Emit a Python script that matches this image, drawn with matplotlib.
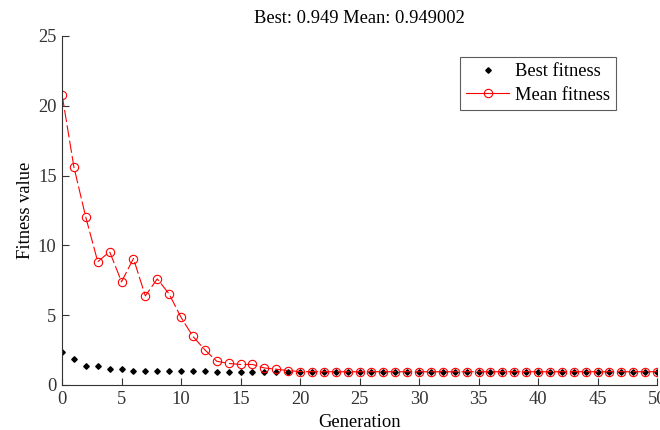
import numpy as np
import matplotlib
matplotlib.use('Agg')
import matplotlib.pyplot as plt

plt.rcParams['font.family'] = ['Liberation Serif', 'DejaVu Serif']

# fitness per generation from the GA run
generation = np.arange(0, 51)
best_fitness = [2.33, 1.85, 1.37, 1.37, 1.13, 1.13, 1.03, 1.03, 1.03, 1.03,
                1.03, 1.03, 1.03] + [0.949] * 38
mean_fitness = [20.8, 15.6, 12.0, 8.83, 9.55, 7.39, 9.06, 6.38, 7.6, 6.52,
                4.84, 3.48, 2.52, 1.70, 1.54, 1.47, 1.47, 1.22, 1.13, 1.03,
                0.96] + [0.949002] * 30

fs = 13.3

fig = plt.figure(figsize=(6.6, 4.3), dpi=100)
ax = fig.add_axes([0.094, 0.1047, 0.9015, 0.8116])

ax.plot(generation, best_fitness, 'D', color='k', markersize=2.8,
        linestyle='none', label='Best fitness')
ax.plot(generation, mean_fitness, color='r', marker='o', markersize=6,
        markerfacecolor='none', markeredgewidth=0.8, linewidth=0.8,
        dashes=(11, 3), label='Mean fitness')

ax.set_xlim(0, 50)
ax.set_ylim(0, 25)
ax.set_xticks(np.arange(0, 51, 5))
ax.set_yticks(np.arange(0, 26, 5))
ax.spines['top'].set_visible(False)
ax.spines['right'].set_visible(False)
for s in ('left', 'bottom'):
    ax.spines[s].set_color('#333333')
ax.tick_params(direction='in', length=5, width=0.8, colors='#333333',
               labelsize=fs)
ax.tick_params(axis='x', pad=4)
ax.tick_params(axis='y', pad=4)

ax.set_title('Best: 0.949 Mean: 0.949002', fontsize=fs, pad=9)
ax.set_xlabel('Generation', fontsize=fs, labelpad=5)
ax.set_ylabel('Fitness value', fontsize=fs, labelpad=3)

leg = ax.legend(loc='upper right', bbox_to_anchor=(0.931, 0.94),
                borderaxespad=0, fontsize=fs, frameon=True, fancybox=False,
                handlelength=2.3, borderpad=0.35, labelspacing=0.35,
                handletextpad=0.3)
leg.get_frame().set_edgecolor('#333333')
leg.get_frame().set_linewidth(0.8)
# solid line in the legend key
leg.get_lines()[1].set_dashes((None, None))
leg.get_lines()[1].set_linestyle('-')

fig.savefig('out.png', dpi=100)
